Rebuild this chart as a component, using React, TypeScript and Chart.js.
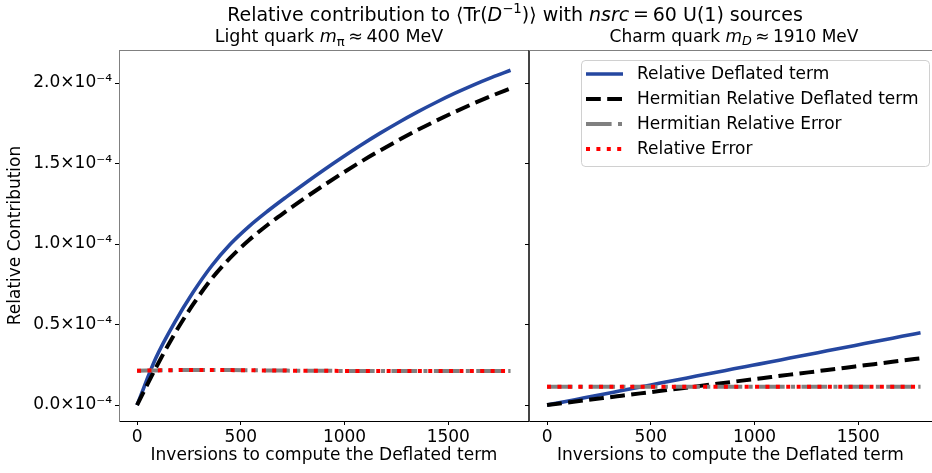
import React, { useEffect, useRef } from "react";
import { Chart, registerables } from "chart.js";

Chart.register(...registerables);

// ---------- DATA (values in units of 1e-4) ----------
const SCALE = 1e-4;
const inversions = [0, 90, 180, 270, 360, 450, 540, 630, 720, 810, 900, 990, 1080, 1170, 1260, 1350, 1440, 1530, 1620, 1710, 1800];

const lightDeflated = [0.0, 0.29, 0.51, 0.7, 0.865, 1.0, 1.11, 1.205, 1.293, 1.378, 1.46, 1.539, 1.615, 1.687, 1.755, 1.819, 1.879, 1.935, 1.987, 2.035, 2.079];
const lightHermDeflated = [0.0, 0.23, 0.44, 0.625, 0.785, 0.915, 1.025, 1.12, 1.205, 1.287, 1.365, 1.44, 1.512, 1.58, 1.645, 1.707, 1.765, 1.82, 1.872, 1.921, 1.967];
const lightHermError = [0.213, 0.215, 0.217, 0.218, 0.218, 0.217, 0.216, 0.215, 0.214, 0.213, 0.213, 0.212, 0.212, 0.212, 0.211, 0.211, 0.211, 0.211, 0.211, 0.211, 0.211];
const lightError = [0.213, 0.215, 0.217, 0.218, 0.218, 0.217, 0.216, 0.215, 0.214, 0.213, 0.213, 0.212, 0.212, 0.212, 0.211, 0.211, 0.211, 0.211, 0.211, 0.211, 0.211];

const charmDeflated = [0.0, 0.022, 0.045, 0.067, 0.09, 0.112, 0.135, 0.157, 0.18, 0.202, 0.225, 0.247, 0.269, 0.292, 0.314, 0.337, 0.359, 0.382, 0.404, 0.427, 0.449];
const charmHermDeflated = [0.0, 0.0145, 0.029, 0.0435, 0.058, 0.0725, 0.087, 0.1015, 0.116, 0.1305, 0.145, 0.16, 0.174, 0.189, 0.203, 0.218, 0.232, 0.247, 0.261, 0.276, 0.29];
const charmHermError = [0.114, 0.114, 0.114, 0.114, 0.114, 0.114, 0.114, 0.114, 0.114, 0.114, 0.114, 0.114, 0.114, 0.114, 0.114, 0.114, 0.114, 0.114, 0.114, 0.114, 0.114];
const charmError = [0.114, 0.114, 0.114, 0.114, 0.114, 0.114, 0.114, 0.114, 0.114, 0.114, 0.114, 0.114, 0.114, 0.114, 0.114, 0.114, 0.114, 0.114, 0.114, 0.114, 0.114];

const xTicks = [0, 500, 1000, 1500];
const yTicks = [0, 0.5, 1.0, 1.5, 2.0];

const seriesLabels = [
  "Relative Deflated term",
  "Hermitian Relative Deflated term",
  "Hermitian Relative Error",
  "Relative Error",
];

// ---------- STYLE / LAYOUT ----------
const FONT = "DejaVu Sans";
const FS = 17;
const X_MIN = -87;
const X_MAX = 1889;
const Y_MIN = -0.099 * SCALE;
const Y_MAX = 2.205 * SCALE;

const W = 932;
const H = 473;
const LEFT_CANVAS_W = 530;
const RIGHT_CANVAS_X = 520;
const RIGHT_CANVAS_W = W - RIGHT_CANVAS_X;
const AREA_TOP = 50;
const AREA_BOTTOM = 421;
const LEFT_AREA_L = 119;
const MID = 529;

const STYLES = [
  { color: "#2547a0", dash: [] as number[], width: 3.6 },
  { color: "#000000", dash: [14.8, 6.4], width: 4 },
  { color: "#808080", dash: [25.6, 6.4, 4, 6.4], width: 4 },
  { color: "#ff0000", dash: [4, 6.4], width: 4 },
];

function makeDatasets(series: number[][]) {
  const orders = [3, 2, 1, 0];
  return series.map((vals, i) => ({
    label: seriesLabels[i],
    data: inversions.map((x, j) => ({ x, y: vals[j] * SCALE })),
    borderColor: STYLES[i].color,
    backgroundColor: STYLES[i].color,
    borderWidth: STYLES[i].width,
    borderDash: STYLES[i].dash,
    borderCapStyle: "butt" as const,
    borderJoinStyle: "round" as const,
    pointRadius: 0,
    fill: false,
    cubicInterpolationMode: "monotone" as const,
    order: orders[i],
  }));
}

const spinesPlugin = (isLeft: boolean) => ({
  id: "spines" + (isLeft ? "L" : "R"),
  afterDraw(chart: any) {
    const { ctx, chartArea } = chart;
    ctx.save();
    ctx.lineWidth = 1;
    ctx.strokeStyle = "#808080";
    ctx.beginPath();
    ctx.moveTo(chartArea.left, Math.round(chartArea.top) + 0.5);
    ctx.lineTo(chartArea.right, Math.round(chartArea.top) + 0.5);
    ctx.stroke();
    if (isLeft) {
      ctx.strokeStyle = "#444444";
      ctx.beginPath();
      ctx.moveTo(Math.round(chartArea.right) - 0.5, chartArea.top);
      ctx.lineTo(Math.round(chartArea.right) - 0.5, chartArea.bottom);
      ctx.stroke();
    }
    ctx.restore();
  },
});

const legendPlugin = {
  id: "innerLegend",
  afterDraw(chart: any) {
    const ctx = chart.ctx;
    const ox = RIGHT_CANVAS_X;
    const bx = 581 - ox, by = 60, bw = 349, bh = 107, r = 4;
    ctx.save();
    ctx.fillStyle = "rgba(255,255,255,0.85)";
    ctx.strokeStyle = "#d0d0d0";
    ctx.lineWidth = 1;
    ctx.beginPath();
    ctx.moveTo(bx + r, by + 0.5);
    ctx.lineTo(bx + bw - r, by + 0.5);
    ctx.arcTo(bx + bw - 0.5, by + 0.5, bx + bw - 0.5, by + r, r);
    ctx.lineTo(bx + bw - 0.5, by + bh - r);
    ctx.arcTo(bx + bw - 0.5, by + bh - 0.5, bx + bw - r, by + bh - 0.5, r);
    ctx.lineTo(bx + r, by + bh - 0.5);
    ctx.arcTo(bx + 0.5, by + bh - 0.5, bx + 0.5, by + bh - r, r);
    ctx.lineTo(bx + 0.5, by + r);
    ctx.arcTo(bx + 0.5, by + 0.5, bx + r, by + 0.5, r);
    ctx.closePath();
    ctx.fill();
    ctx.stroke();
    const rows = [74, 99, 124, 149];
    seriesLabels.forEach((lab, i) => {
      const y = rows[i];
      ctx.beginPath();
      ctx.strokeStyle = STYLES[i].color;
      ctx.lineWidth = STYLES[i].width;
      ctx.setLineDash(STYLES[i].dash);
      ctx.lineCap = "butt";
      ctx.moveTo(586 - ox, y);
      ctx.lineTo(623 - ox, y);
      ctx.stroke();
      ctx.setLineDash([]);
      ctx.fillStyle = "#000";
      ctx.font = `${FS}px "${FONT}"`;
      ctx.textBaseline = "middle";
      ctx.textAlign = "left";
      ctx.fillText(lab, 637 - ox, y + 1);
    });
    ctx.restore();
  },
};

function makeConfig(isLeft: boolean, series: number[][]): any {
  const leftAreaW = MID - LEFT_AREA_L;
  const rightAreaW = W - MID;
  const xMax = isLeft ? X_MAX : X_MIN + (rightAreaW * (X_MAX - X_MIN)) / leftAreaW;
  return {
    type: "line",
    data: { datasets: makeDatasets(series) },
    options: {
      animation: false,
      responsive: false,
      maintainAspectRatio: false,
      devicePixelRatio: 1,
      layout: { padding: { top: AREA_TOP, right: isLeft ? LEFT_CANVAS_W - MID : 0, left: 0, bottom: 0 } },
      plugins: {
        legend: { display: false },
        tooltip: { enabled: false },
        title: { display: false },
      },
      scales: {
        x: {
          type: "linear",
          min: X_MIN,
          max: xMax,
          afterBuildTicks: (s: any) => {
            s.ticks = xTicks.map((v) => ({ value: v }));
          },
          afterFit: (s: any) => {
            s.height = H - AREA_BOTTOM;
          },
          ticks: {
            font: { family: FONT, size: FS },
            color: "#000",
            padding: 2,
            maxRotation: 0,
            autoSkip: false,
            callback: (v: any) => String(v),
          },
          grid: { drawOnChartArea: false, drawTicks: true, tickLength: 4, tickColor: "#000", tickWidth: 1 },
          border: { display: true, color: "#000", width: 1 },
          title: {
            display: true,
            text: "Inversions to compute the Deflated term",
            font: { family: FONT, size: FS },
            color: "#000",
            padding: { top: 0, bottom: 7 },
          },
        },
        y: {
          type: "linear",
          min: Y_MIN,
          max: Y_MAX,
          afterBuildTicks: (s: any) => {
            s.ticks = yTicks.map((v) => ({ value: v * SCALE }));
          },
          afterFit: (s: any) => {
            s.width = isLeft ? LEFT_AREA_L : MID - RIGHT_CANVAS_X;
          },
          ticks: {
            display: isLeft,
            font: { family: FONT, size: FS },
            color: "#000",
            padding: 3,
            callback: (v: any) => (v / SCALE).toFixed(1) + "×10⁻⁴",
          },
          grid: { drawOnChartArea: false, drawTicks: true, tickLength: 4, tickColor: "#000", tickWidth: 1 },
          border: { display: true, color: isLeft ? "#808080" : "#444444", width: 1 },
          title: {
            display: isLeft,
            text: "Relative Contribution",
            font: { family: FONT, size: FS },
            color: "#000",
            padding: { top: 5, bottom: 0 },
          },
        },
      },
    },
    plugins: isLeft ? [spinesPlugin(true)] : [spinesPlugin(false), legendPlugin],
  };
}

function ChartCanvas(props: { isLeft: boolean; series: number[][]; x: number; w: number }) {
  const ref = useRef<HTMLCanvasElement | null>(null);
  useEffect(() => {
    if (!ref.current) return;
    const chart = new Chart(ref.current, makeConfig(props.isLeft, props.series));
    return () => chart.destroy();
  }, []);
  return (
    <canvas
      ref={ref}
      width={props.w}
      height={H}
      style={{ position: "absolute", left: props.x, top: 0, width: props.w, height: H }}
    />
  );
}

const textStyle = (cx: number, cy: number, fs: number): React.CSSProperties => ({
  position: "absolute",
  left: cx,
  top: cy,
  transform: "translate(-50%, -50%)",
  whiteSpace: "nowrap",
  fontFamily: FONT,
  fontSize: fs,
  color: "#000",
  lineHeight: 1,
});

const supStyle: React.CSSProperties = { fontSize: "0.7em", verticalAlign: "0.55em" };
const subStyle: React.CSSProperties = { fontSize: "0.75em", verticalAlign: "-0.25em" };
const relStyle: React.CSSProperties = { margin: "0 0.2em" };

export default function App() {
  return (
    <div style={{ position: "fixed", left: 0, top: 0, width: W, height: H, background: "#fff", overflow: "hidden" }}>
      <ChartCanvas isLeft={true} series={[lightDeflated, lightHermDeflated, lightHermError, lightError]} x={0} w={LEFT_CANVAS_W} />
      <ChartCanvas isLeft={false} series={[charmDeflated, charmHermDeflated, charmHermError, charmError]} x={RIGHT_CANVAS_X} w={RIGHT_CANVAS_W} />
      <div style={textStyle(515, 13, 19)}>
        Relative contribution to ⟨Tr(<i>D</i>
        <span style={supStyle}>−1</span>)⟩ with <i>nsrc</i>
        <span style={relStyle}>=</span>60 U(1) sources
      </div>
      <div style={textStyle(329, 38, 17.5)}>
        Light quark <i>m</i>
        <span style={subStyle}>π</span>
        <span style={relStyle}>≈</span>400 MeV
      </div>
      <div style={textStyle(734, 38, 17)}>
        Charm quark <i>m</i>
        <span style={subStyle}>
          <i>D</i>
        </span>
        <span style={relStyle}>≈</span>1910 MeV
      </div>
    </div>
  );
}
